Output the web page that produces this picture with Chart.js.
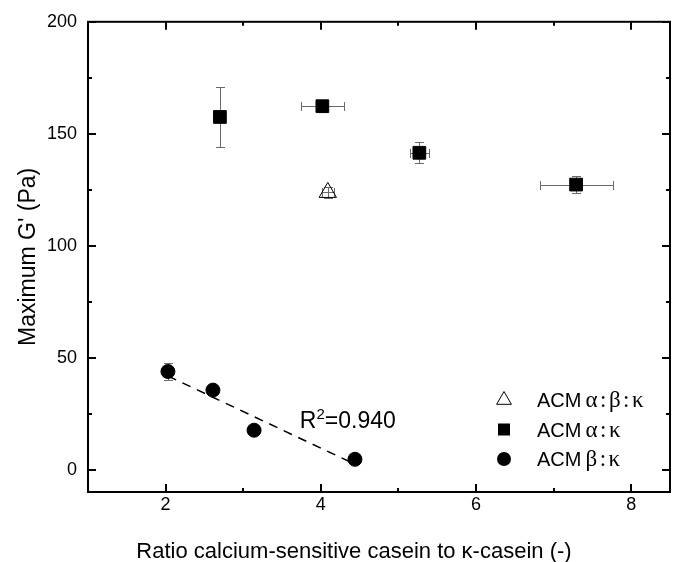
<!DOCTYPE html>
<html>
<head>
<meta charset="utf-8">
<script src="https://cdn.jsdelivr.net/npm/chart.js@4.4.0/dist/chart.umd.min.js"></script>
<style>
  html, body { margin: 0; padding: 0; background: #fff; }
  #wrap { width: 681px; height: 562px; }
</style>
</head>
<body>
<div id="wrap"><canvas id="chart" width="681" height="562"></canvas></div>
<script>
// ACM α:β:κ (open triangle)
const triX = [4.09];
const triY = [123.8];
const triXErr = [0.08];
const triYErr = [2.5];

// ACM α:κ (squares)
const sqX = [2.70, 4.02, 5.27, 7.29];
const sqY = [157.5, 162.3, 141.5, 127.3];
const sqXErr = [0, 0.28, 0.12, 0.47];
const sqYErr = [13.5, 2.5, 4.6, 3.8];

// ACM β:κ (circles)
const cirX = [2.03, 2.61, 3.14, 4.44];
const cirY = [43.8, 35.5, 17.6, 4.6];
const cirXErr = [0, 0, 0, 0];
const cirYErr = [3.6, 1.5, 1.5, 1.5];

// dashed fit line through the β:κ points
const fitX = [2.03, 4.44];
const fitY = [41.8, 2.4];
const fitR2 = "0.940";
const fitLabelAt = [3.73, 18.5];

const xTicks = [2, 3, 4, 5, 6, 7, 8];
const xLabels = [2, 4, 6, 8];
const yTicks = [0, 25, 50, 75, 100, 125, 150, 175, 200];
const yLabels = [0, 50, 100, 150, 200];

const seriesNames = ["ACM α:β:κ", "ACM α:κ", "ACM β:κ"];
const xTitle = "Ratio calcium-sensitive casein to κ-casein (-)";
const yTitle = "Maximum G' (Pa)";

const SANS = '"Liberation Sans", Arial, sans-serif';
const SERIF = '"Liberation Serif", "Times New Roman", serif';

Chart.defaults.font.family = SANS;
Chart.defaults.color = "#000";

const toPoints = (xs, ys) => xs.map((x, i) => ({ x: x, y: ys[i] }));

// error bars under the markers
const errorBars = {
  id: "errorBars",
  beforeDatasetsDraw(chart) {
    const { ctx } = chart;
    const xs = chart.scales.x, ys = chart.scales.y;
    const cap = 4.5;
    ctx.save();
    ctx.strokeStyle = "#6a6a6a";
    ctx.lineWidth = 1;
    chart.data.datasets.forEach(ds => {
      if (!ds.errX) return;
      ds.data.forEach((p, i) => {
        const px = Math.round(xs.getPixelForValue(p.x)) + 0.5;
        const py = Math.round(ys.getPixelForValue(p.y)) + 0.5;
        const ex = ds.errX[i], ey = ds.errY[i];
        ctx.beginPath();
        if (ey) {
          const y1 = Math.round(ys.getPixelForValue(p.y + ey)) + 0.5;
          const y2 = Math.round(ys.getPixelForValue(p.y - ey)) + 0.5;
          ctx.moveTo(px, y1); ctx.lineTo(px, y2);
          ctx.moveTo(px - cap, y1); ctx.lineTo(px + cap, y1);
          ctx.moveTo(px - cap, y2); ctx.lineTo(px + cap, y2);
        }
        if (ex) {
          const x1 = Math.round(xs.getPixelForValue(p.x - ex)) + 0.5;
          const x2 = Math.round(xs.getPixelForValue(p.x + ex)) + 0.5;
          ctx.moveTo(x1, py); ctx.lineTo(x2, py);
          ctx.moveTo(x1, py - cap); ctx.lineTo(x1, py + cap);
          ctx.moveTo(x2, py - cap); ctx.lineTo(x2, py + cap);
        }
        ctx.stroke();
      });
    });
    ctx.restore();
  }
};

function drawSymbol(ctx, kind, x, y) {
  ctx.beginPath();
  if (kind === "triangle") {
    ctx.moveTo(x, y - 8.5);
    ctx.lineTo(x + 7.4, y + 4.3);
    ctx.lineTo(x - 7.4, y + 4.3);
    ctx.closePath();
    ctx.lineWidth = 1;
    ctx.stroke();
  } else if (kind === "rect") {
    ctx.rect(x - 6, y - 6, 12, 12);
    ctx.fill();
  } else {
    ctx.arc(x, y, 7, 0, Math.PI * 2);
    ctx.fill();
  }
}

// frame with inward ticks, titles, legend and R² label
const decorations = {
  id: "decorations",
  afterDraw(chart) {
    const { ctx, chartArea: a } = chart;
    const xs = chart.scales.x, ys = chart.scales.y;
    ctx.save();
    ctx.strokeStyle = "#000";
    ctx.fillStyle = "#000";
    ctx.lineWidth = 2;
    ctx.strokeRect(a.left, a.top, a.right - a.left, a.bottom - a.top);

    ctx.beginPath();
    xTicks.forEach(v => {
      const px = Math.round(xs.getPixelForValue(v));
      const len = xLabels.includes(v) ? 8 : 4;
      ctx.moveTo(px, a.bottom); ctx.lineTo(px, a.bottom - len);
      ctx.moveTo(px, a.top); ctx.lineTo(px, a.top + len);
    });
    yTicks.forEach(v => {
      const py = Math.round(ys.getPixelForValue(v));
      const len = yLabels.includes(v) ? 8 : 4;
      ctx.moveTo(a.left, py); ctx.lineTo(a.left + len, py);
      ctx.moveTo(a.right, py); ctx.lineTo(a.right - len, py);
    });
    ctx.stroke();

    // axis titles
    ctx.font = "22px " + SANS;
    ctx.textAlign = "center";
    ctx.textBaseline = "alphabetic";
    ctx.fillText(xTitle, 354, 558);
    ctx.save();
    ctx.translate(35, (a.top + a.bottom) / 2);
    ctx.rotate(-Math.PI / 2);
    ctx.font = "23px " + SANS;
    ctx.fillText(yTitle, 0, 0);
    ctx.restore();

    // R² label
    const rx = xs.getPixelForValue(fitLabelAt[0]);
    const ry = ys.getPixelForValue(fitLabelAt[1]);
    ctx.textAlign = "left";
    ctx.font = "23px " + SANS;
    ctx.fillText("R", rx, ry);
    let w = ctx.measureText("R").width;
    ctx.font = "15px " + SANS;
    ctx.fillText("2", rx + w, ry - 9);
    w += ctx.measureText("2").width;
    ctx.font = "23px " + SANS;
    ctx.fillText("=" + fitR2, rx + w, ry);

    // legend
    const kinds = ["triangle", "rect", "circle"];
    const lx = a.right - 166, ly = a.bottom - 92;
    seriesNames.forEach((name, i) => {
      const y = ly + i * 29.5;
      drawSymbol(ctx, kinds[i], lx, y);
      const cut = name.indexOf(" ");
      ctx.font = "20px " + SANS;
      ctx.fillText(name.slice(0, cut), lx + 33, y + 7);
      const w1 = ctx.measureText(name.slice(0, cut)).width;
      ctx.font = "23px " + SERIF;
      ctx.letterSpacing = "2.5px";
      ctx.fillText(name.slice(cut + 1), lx + 33 + w1 + 4, y + 7);
      ctx.letterSpacing = "0px";
    });
    ctx.restore();
  }
};

new Chart(document.getElementById("chart"), {
  type: "scatter",
  data: {
    datasets: [
      {
        label: seriesNames[0],
        data: toPoints(triX, triY),
        errX: triXErr, errY: triYErr,
        pointStyle: "triangle",
        pointRadius: 10,
        backgroundColor: "rgba(0,0,0,0)",
        borderColor: "#000",
        borderWidth: 1,
        order: 1
      },
      {
        label: seriesNames[1],
        data: toPoints(sqX, sqY),
        errX: sqXErr, errY: sqYErr,
        pointStyle: "rect",
        pointRadius: 9,
        backgroundColor: "#000",
        borderColor: "#000",
        borderWidth: 1,
        order: 2
      },
      {
        label: seriesNames[2],
        data: toPoints(cirX, cirY),
        errX: cirXErr, errY: cirYErr,
        pointStyle: "circle",
        pointRadius: 7,
        backgroundColor: "#000",
        borderColor: "#000",
        borderWidth: 1,
        order: 3
      },
      {
        label: "fit",
        data: toPoints(fitX, fitY),
        showLine: true,
        pointRadius: 0,
        borderColor: "#000",
        borderWidth: 1.5,
        borderDash: [9, 7],
        order: 10
      }
    ]
  },
  options: {
    responsive: false,
    animation: false,
    layout: { padding: { left: 0, top: 21, right: 8, bottom: 0 } },
    plugins: {
      legend: { display: false },
      tooltip: { enabled: false }
    },
    scales: {
      x: {
        type: "linear",
        min: 1,
        max: 8.5,
        afterBuildTicks: s => { s.ticks = xTicks.map(v => ({ value: v })); },
        afterFit: s => { s.height = 70; },
        grid: { display: false, drawTicks: false },
        border: { display: false },
        ticks: {
          autoSkip: false,
          maxRotation: 0,
          padding: 2,
          font: { size: 18 },
          callback: v => xLabels.includes(v) ? String(v) : ""
        }
      },
      y: {
        type: "linear",
        min: -10,
        max: 200,
        afterBuildTicks: s => { s.ticks = yTicks.map(v => ({ value: v })); },
        afterFit: s => { s.width = 88; },
        grid: { display: false, drawTicks: false },
        border: { display: false },
        ticks: {
          autoSkip: false,
          padding: 11,
          font: { size: 18 },
          callback: v => yLabels.includes(v) ? String(v) : ""
        }
      }
    }
  },
  plugins: [errorBars, decorations]
});
</script>
</body>
</html>
